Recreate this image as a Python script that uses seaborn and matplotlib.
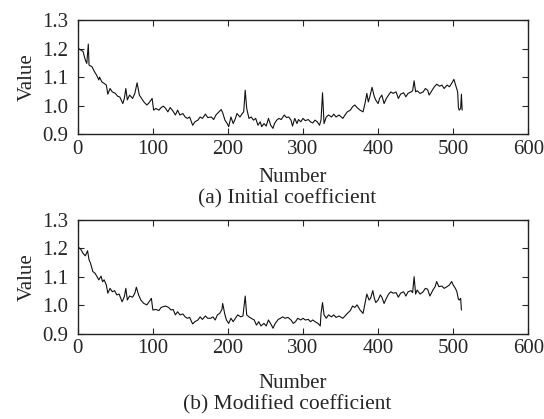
import numpy as np
import pandas as pd
import matplotlib
matplotlib.use("Agg")
import matplotlib.pyplot as plt
import seaborn as sns

# values (index, coefficient)
init_idx = [1, 4, 7, 10, 12, 14, 15, 19, 22, 25, 28, 29, 32, 35, 38, 40, 43, 46, 50, 53,
            56, 60, 62, 64, 66, 69, 73, 76, 79, 82, 85, 88, 92, 95, 99, 101, 104, 108, 111, 114,
            117, 120, 123, 126, 130, 133, 136, 140, 143, 146, 149, 153, 156, 160, 163, 166, 170, 173, 178, 181,
            184, 188, 191, 193, 196, 199, 201, 204, 207, 210, 212, 216, 219, 221, 223, 225, 228, 231, 234, 237,
            240, 243, 245, 248, 251, 254, 257, 260, 262, 265, 268, 271, 275, 278, 281, 284, 286, 289, 292, 294,
            297, 300, 303, 307, 310, 313, 316, 319, 322, 324, 326, 328, 331, 334, 338, 341, 344, 348, 351, 353,
            356, 359, 363, 366, 369, 372, 376, 380, 383, 385, 387, 389, 392, 395, 397, 400, 402, 405, 408, 411,
            414, 417, 420, 424, 427, 430, 434, 437, 440, 444, 446, 448, 450, 452, 456, 460, 463, 466, 468, 472,
            475, 478, 482, 485, 488, 492, 495, 498, 501, 504, 506, 507, 508, 510, 511, 512]
init_val = [1.200, 1.195, 1.190, 1.160, 1.148, 1.216, 1.142, 1.136, 1.120, 1.107, 1.090, 1.100, 1.083, 1.078, 1.072, 1.040, 1.060, 1.048, 1.043, 1.033,
            1.030, 1.007, 1.025, 1.060, 1.020, 1.037, 1.025, 1.043, 1.080, 1.037, 1.025, 1.013, 1.002, 1.010, 1.025, 0.984, 0.990, 0.984, 0.993, 0.998,
            0.990, 0.978, 0.993, 0.984, 0.967, 0.984, 0.967, 0.972, 0.960, 0.955, 0.960, 0.931, 0.943, 0.949, 0.960, 0.955, 0.970, 0.958, 0.960, 0.951,
            0.967, 0.978, 0.986, 0.975, 0.949, 0.937, 0.926, 0.960, 0.937, 0.955, 0.972, 0.960, 0.972, 0.978, 1.054, 0.990, 0.955, 0.960, 0.949, 0.955,
            0.931, 0.943, 0.926, 0.937, 0.928, 0.955, 0.931, 0.920, 0.937, 0.949, 0.955, 0.951, 0.967, 0.958, 0.960, 0.949, 0.928, 0.955, 0.937, 0.951,
            0.943, 0.955, 0.947, 0.951, 0.943, 0.939, 0.949, 0.943, 0.931, 0.949, 1.045, 0.937, 0.960, 0.967, 0.960, 0.970, 0.960, 0.967, 0.960, 0.955,
            0.967, 0.978, 0.984, 0.996, 1.002, 0.993, 0.984, 0.978, 1.013, 1.043, 1.013, 1.031, 1.064, 1.031, 1.019, 1.007, 1.025, 1.037, 1.007, 1.025,
            1.037, 1.048, 1.043, 1.048, 1.025, 1.040, 1.045, 1.031, 1.043, 1.048, 1.052, 1.087, 1.048, 1.052, 1.043, 1.048, 1.060, 1.054, 1.037, 1.054,
            1.066, 1.075, 1.068, 1.072, 1.060, 1.072, 1.066, 1.078, 1.092, 1.066, 1.048, 0.993, 0.984, 0.990, 1.040, 0.984]

mod_idx = [1, 4, 7, 10, 13, 15, 17, 20, 23, 26, 28, 31, 33, 35, 38, 40, 43, 46, 49, 52,
           55, 59, 62, 64, 66, 69, 73, 76, 78, 81, 84, 88, 92, 95, 98, 100, 104, 108, 111, 114,
           117, 121, 124, 127, 130, 133, 136, 140, 143, 146, 149, 153, 156, 160, 163, 166, 170, 173, 177, 180,
           183, 186, 189, 192, 193, 196, 198, 201, 204, 207, 210, 213, 217, 220, 223, 225, 228, 231, 235, 238,
           241, 244, 248, 251, 254, 258, 260, 263, 267, 270, 273, 276, 280, 284, 287, 290, 293, 297, 300, 303,
           307, 310, 313, 316, 320, 323, 324, 326, 328, 331, 334, 338, 341, 344, 348, 351, 353, 356, 359, 363,
           366, 369, 372, 376, 380, 383, 385, 388, 390, 393, 395, 397, 400, 403, 405, 408, 411, 414, 417, 420,
           424, 427, 430, 434, 437, 440, 444, 446, 448, 450, 452, 456, 460, 463, 466, 469, 473, 476, 478, 481,
           485, 488, 492, 495, 498, 500, 503, 505, 507, 508, 510, 511]
mod_val = [1.204, 1.197, 1.183, 1.174, 1.192, 1.160, 1.148, 1.119, 1.113, 1.099, 1.090, 1.103, 1.083, 1.090, 1.072, 1.043, 1.060, 1.048, 1.052, 1.037,
           1.040, 1.013, 1.031, 1.060, 1.019, 1.033, 1.029, 1.043, 1.064, 1.037, 1.019, 1.007, 1.002, 1.013, 1.025, 0.984, 0.986, 0.982, 0.993, 0.996,
           0.998, 0.993, 0.984, 0.986, 0.967, 0.978, 0.967, 0.970, 0.960, 0.955, 0.958, 0.935, 0.943, 0.949, 0.960, 0.951, 0.963, 0.955, 0.955, 0.960,
           0.949, 0.967, 0.972, 0.986, 1.007, 0.967, 0.949, 0.937, 0.955, 0.943, 0.955, 0.967, 0.960, 0.963, 1.033, 0.967, 0.960, 0.955, 0.949, 0.931,
           0.943, 0.928, 0.937, 0.928, 0.949, 0.931, 0.920, 0.937, 0.951, 0.955, 0.960, 0.955, 0.958, 0.949, 0.937, 0.943, 0.955, 0.949, 0.955, 0.949,
           0.951, 0.943, 0.949, 0.943, 0.937, 0.928, 0.972, 1.010, 0.967, 0.955, 0.967, 0.960, 0.967, 0.958, 0.963, 0.958, 0.955, 0.963, 0.972, 0.982,
           0.998, 0.993, 1.002, 0.984, 0.972, 1.013, 1.040, 1.019, 1.025, 1.052, 1.025, 1.010, 1.019, 1.037, 1.029, 1.007, 1.025, 1.040, 1.048, 1.043,
           1.045, 1.029, 1.043, 1.048, 1.033, 1.048, 1.052, 1.045, 1.101, 1.040, 1.054, 1.040, 1.048, 1.060, 1.057, 1.033, 1.054, 1.066, 1.084, 1.066,
           1.068, 1.060, 1.066, 1.072, 1.084, 1.072, 1.060, 1.048, 1.022, 1.019, 1.025, 0.984]

captions = ["(a) Initial coefficient", "(b) Modified coefficient"]
xticks = [0, 100, 200, 300, 400, 500, 600]
yticks = [0.9, 1.0, 1.1, 1.2, 1.3]

sns.set_style("ticks")
plt.rcParams["font.family"] = ["Liberation Serif", "DejaVu Serif"]
plt.rcParams["xtick.direction"] = "in"
plt.rcParams["ytick.direction"] = "in"

fig = plt.figure(figsize=(5.44, 4.19), dpi=100)
ax1 = fig.add_axes([0.143, 0.680, 0.828, 0.272])
ax2 = fig.add_axes([0.143, 0.203, 0.828, 0.272])

series = [(init_idx, init_val), (mod_idx, mod_val)]
for ax, (xs, ys) in zip([ax1, ax2], series):
    df = pd.DataFrame({"Number": xs, "Value": ys})
    sns.lineplot(data=df, x="Number", y="Value", ax=ax, color="#111111", linewidth=0.8)
    ax.set_xlim(0, 600)
    ax.set_ylim(0.9, 1.3)
    ax.set_xticks(xticks)
    ax.set_yticks(yticks)
    ax.set_yticklabels([f"{t:.1f}" for t in yticks])
    ax.tick_params(axis="both", labelsize=15, length=4, width=0.8, top=True, right=True)
    ax.tick_params(axis="y", pad=7)
    ax.tick_params(axis="x", pad=4)
    for sp in ax.spines.values():
        sp.set_visible(True)
        sp.set_linewidth(1.0)
        sp.set_color("#222222")
    ax.set_xlabel("")
    ax.set_ylabel("Value", fontsize=15, labelpad=4)

# axis titles and captions under each panel
fig.text(293 / 544, 1 - 177 / 419, "Number", ha="center", va="center", fontsize=15)
fig.text(287 / 544, 1 - 199 / 419, captions[0], ha="center", va="center", fontsize=15.5)
fig.text(293 / 544, 1 - 383 / 419, "Number", ha="center", va="center", fontsize=15)
fig.text(287 / 544, 1 - 405 / 419, captions[1], ha="center", va="center", fontsize=15.5)

fig.savefig("out.png", dpi=100)
